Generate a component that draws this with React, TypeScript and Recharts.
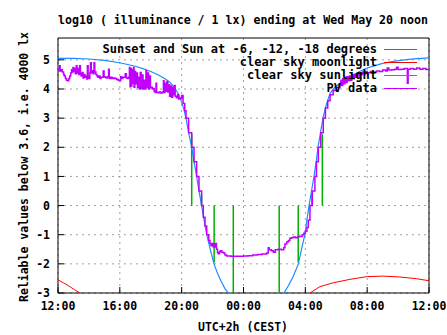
import { LineChart, Line, XAxis, YAxis, CartesianGrid, Legend, ReferenceLine, ReferenceArea } from 'recharts';

// hours after 12:00 (0..24)
const xTicks = [0, 4, 8, 12, 16, 20, 24];
const xTickLabels = ['12:00', '16:00', '20:00', '00:00', '04:00', '08:00', '12:00'];
const minorTicks = [0, 1, 2, 3, 4, 5, 6, 7, 8, 9, 10, 11, 12, 13, 14, 15, 16, 17, 18, 19, 20, 21, 22, 23, 24];
const yTicks = [-3, -2, -1, 0, 1, 2, 3, 4, 5];

// sunset, sun at -6, -12, -18 degrees and back again
const sunTimes = [8.65, 9.29, 10.1, 11.34, 14.31, 15.54, 16.43, 17.1];
const sunTops = [2.45, 0.38, -1.95, -3, -3, -1.95, 0.4, 2.45];

const sunlightT = [0, 1, 2, 3, 4, 5, 5.5, 6, 6.5, 7, 7.3, 7.6, 7.8, 8.0, 8.14, 8.28, 8.45, 8.65, 8.8, 8.97, 9.12, 9.29, 9.45, 9.62, 9.85, 10.09, 10.3, 10.55, 10.8, 11.02,
  12.8,
  14.62, 14.9, 15.2, 15.55, 15.75, 15.97, 16.1, 16.24, 16.4, 16.56, 16.7, 16.82, 16.98, 17.14, 17.35, 17.6, 17.9, 18.24, 18.89, 19.5, 20, 20.5, 21, 21.7, 22.4, 23.2, 24];
const sunlightV = [5.05, 5.05, 5.03, 4.98, 4.9, 4.78, 4.7, 4.6, 4.48, 4.33, 4.2, 4.0, 3.82, 3.55, 3.3, 3.0, 2.5, 2.0, 1.5, 1.0, 0.5, 0.0, -0.5, -1.0, -1.5, -2.0, -2.3, -2.6, -2.85, -3.0,
  null,
  -3.0, -2.75, -2.45, -2.0, -1.5, -1.0, -0.5, 0, 0.5, 1.0, 1.5, 2.0, 2.5, 3.0, 3.45, 3.85, 4.05, 4.2, 4.42, 4.6, 4.72, 4.8, 4.88, 4.95, 5.0, 5.04, 5.07];

const moonT = [0, 0.35, 0.7, 1.05, 1.42, 8, 16.3, 16.95, 17.8, 18.9, 19.97, 21, 22.1, 23.2, 24];
const moonV = [-2.55, -2.65, -2.76, -2.88, -3.0, null, -3.0, -2.78, -2.65, -2.53, -2.44, -2.42, -2.45, -2.51, -2.58];

const pvT = [0.00, 0.05, 0.10, 0.14, 0.20, 0.28, 0.36, 0.41, 0.48, 0.55, 0.63, 0.70, 0.76, 0.82, 0.88, 0.92, 0.97, 1.02, 1.08, 1.12, 1.18, 1.23, 1.28, 1.34, 1.40, 1.45, 1.50, 1.56, 1.62, 1.68, 1.74, 1.80, 1.86, 1.90, 1.95,
  2.00, 2.06, 2.10, 2.15, 2.22, 2.28, 2.33, 2.38, 2.45, 2.52, 2.58, 2.65, 2.72, 2.78, 2.85, 2.92, 2.98, 3.05, 3.12, 3.20, 3.27, 3.32, 3.40, 3.50, 3.60, 3.70, 3.80, 3.90, 3.97,
  4.05, 4.12, 4.20, 4.28, 4.35, 4.42, 4.50, 4.56, 4.62, 4.66, 4.70, 4.74, 4.78, 4.83, 4.88, 4.92, 4.97, 5.02, 5.08, 5.14, 5.20, 5.26, 5.32, 5.38, 5.44, 5.50, 5.56, 5.62, 5.69, 5.74, 5.80, 5.86, 5.92, 5.98,
  6.04, 6.10, 6.16, 6.22, 6.28, 6.34, 6.38, 6.46, 6.55, 6.65, 6.77, 6.82, 6.86, 6.92, 6.98, 7.04, 7.10, 7.16, 7.22, 7.28, 7.34, 7.42, 7.46, 7.52, 7.58, 7.66, 7.74, 7.80, 7.90,
  8.00, 8.09, 8.20, 8.28, 8.45, 8.65, 8.80, 8.97, 9.12, 9.29, 9.40, 9.51, 9.62, 9.75, 9.83, 9.90, 9.98, 10.05, 10.16, 10.25, 10.32, 10.37, 10.45, 10.52, 10.59, 10.70, 10.80, 10.91,
  11.2, 11.6, 12.0, 12.3, 12.6, 12.9, 13.2, 13.5, 13.6, 13.66, 13.8, 13.93, 14.05, 14.25, 14.45, 14.6, 14.68, 14.8, 14.9, 15.0, 15.1, 15.22, 15.35, 15.5, 15.65, 15.8, 15.9, 16.0,
  16.1, 16.19, 16.3, 16.45, 16.62, 16.72, 16.84, 17.0, 17.16, 17.3, 17.45, 17.6, 17.8, 18.0,
  18.24, 18.3, 18.36, 18.42, 18.5, 18.56, 18.62, 18.7, 18.78, 18.85, 18.92, 19.0, 19.08, 19.16, 19.24, 19.32, 19.4, 19.5, 19.6, 19.7, 19.8, 19.9,
  20.0, 20.2, 20.4, 20.6, 20.8, 21.0, 21.2, 21.3, 21.4, 21.6, 21.8, 21.9, 22.0, 22.2, 22.4, 22.6, 22.65, 22.8, 23.0, 23.2, 23.4, 23.6, 23.8, 24];
const pvV = [4.62, 4.68, 4.80, 4.62, 4.66, 4.58, 4.50, 4.45, 4.36, 4.30, 4.28, 4.36, 4.45, 4.55, 4.66, 4.58, 4.74, 4.60, 4.70, 4.52, 4.80, 4.55, 4.70, 4.50, 4.80, 4.52, 4.45, 4.57, 4.38, 4.50, 4.40, 4.45, 4.34, 4.80, 4.42,
  4.36, 4.57, 4.90, 4.55, 4.63, 4.52, 4.90, 4.58, 4.50, 4.45, 4.40, 4.45, 4.36, 4.40, 4.40, 4.62, 4.42, 4.40, 4.38, 4.42, 4.68, 4.36, 4.40, 4.36, 4.38, 4.36, 4.33, 4.30, 4.28,
  4.42, 4.36, 4.40, 4.40, 4.52, 4.38, 4.36, 4.40, 4.74, 4.08, 4.70, 4.10, 4.66, 4.20, 4.74, 4.06, 4.60, 4.18, 4.55, 4.05, 4.40, 4.00, 4.57, 4.02, 4.48, 4.00, 4.30, 4.00, 4.63, 4.05, 4.55, 4.00, 4.45, 4.04,
  4.06, 4.00, 4.02, 3.92, 3.88, 4.20, 3.88, 3.87, 3.90, 3.86, 3.90, 4.28, 3.88, 4.20, 3.92, 4.26, 3.90, 4.15, 3.75, 4.10, 3.72, 4.05, 3.80, 4.12, 3.75, 3.70, 3.80, 3.66, 3.68,
  3.78, 3.50, 3.25, 3.00, 2.50, 2.00, 1.50, 1.00, 0.50, 0.00, -0.40, -0.70, -1.00, -1.20, -1.30, -1.38, -1.30, -1.42, -1.30, -1.50, -1.62, -1.65, -1.58, -1.55, -1.60, -1.63, -1.70, -1.73,
  -1.74, -1.74, -1.73, -1.72, -1.70, -1.68, -1.66, -1.63, -1.45, -1.52, -1.55, -1.60, -1.52, -1.50, -1.52, -1.45, -1.32, -1.25, -1.20, -1.12, -1.10, -1.08, -1.10, -1.07, -1.05, -1.00, -0.95, -0.88,
  -0.75, -0.50, 0.00, 0.50, 1.00, 1.50, 2.00, 2.50, 3.00, 3.35, 3.60, 3.80, 3.95, 4.05,
  4.15, 4.30, 4.12, 4.35, 4.18, 4.40, 4.22, 4.42, 4.28, 4.45, 4.30, 4.48, 4.35, 4.50, 4.40, 4.52, 4.45, 4.55, 4.50, 4.58, 4.52, 4.60,
  4.56, 4.60, 4.58, 4.62, 4.60, 4.65, 4.62, 4.72, 4.65, 4.66, 4.68, 4.75, 4.67, 4.68, 4.70, 4.20, 4.68, 4.70, 4.68, 4.72, 4.68, 4.70, 4.67, 4.68];

const legendItems = [
  { name: 'Sunset and Sun at -6, -12, -18 degrees', color: '#00b000' },
  { name: 'clear sky moonlight', color: '#ff0000' },
  { name: 'clear sky sunlight', color: '#1a8cff' },
  { name: 'PV data', color: '#c000ff' },
];

const FONT = '"DejaVu Sans Mono", monospace';

const sunlight = sunlightT.map((t, i) => ({ t, v: sunlightV[i] }));
const moonlight = moonT.map((t, i) => ({ t, v: moonV[i] }));
const pv = pvT.map((t, i) => ({ t, v: pvV[i] }));

const tickStyle = { fontFamily: FONT, fontSize: 11.5, fontWeight: 'bold', fill: '#000' };

function LegendBox() {
  return (
    <div style={{ fontFamily: FONT, fontSize: 12, fontWeight: 'bold', color: '#000', lineHeight: '13px' }}>
      {legendItems.map(it => (
        <div key={it.name} style={{ display: 'flex', justifyContent: 'flex-end', alignItems: 'center', height: 13, whiteSpace: 'pre' }}>
          <span>{it.name}</span>
          <span style={{ display: 'inline-block', flexShrink: 0, width: 33, height: 1, background: it.color, marginLeft: 7 }} />
        </div>
      ))}
    </div>
  );
}

export default function App() {
  return (
    <div style={{ position: 'absolute', left: 0, top: 0, width: 447, height: 335, background: '#fff' }}>
      <div style={{ position: 'absolute', left: 0, width: 447, top: 13, textAlign: 'center', fontFamily: FONT, fontSize: 11.6, fontWeight: 'bold', paddingLeft: 39, boxSizing: 'border-box' }}>
        log10 ( illuminance / 1 lx) ending at Wed May 20 noon
      </div>
      <div style={{ position: 'absolute', left: 24, top: 167, transform: 'translate(-50%, -50%) rotate(-90deg)', whiteSpace: 'nowrap', fontFamily: FONT, fontSize: 11.5, fontWeight: 'bold' }}>
        Reliable values below 3.6, i.e. 4000 lx
      </div>
      <div style={{ position: 'absolute', left: 0, width: 447, top: 320, textAlign: 'center', fontFamily: FONT, fontSize: 11.5, fontWeight: 'bold', paddingLeft: 39, boxSizing: 'border-box' }}>
        UTC+2h (CEST)
      </div>
      <LineChart width={447} height={335} margin={{ top: 38, right: 18, left: 0, bottom: 0 }} style={{ position: 'absolute', left: 0, top: 0 }}>
        <CartesianGrid horizontalValues={yTicks} verticalValues={xTicks} stroke="#a0a0a0" strokeDasharray="2 4" />
        <XAxis xAxisId="minor" type="number" dataKey="t" domain={[0, 24]} ticks={minorTicks} height={0} tickSize={-3} tick={false} axisLine={false} tickLine={{ stroke: '#000' }} />
        <XAxis xAxisId={0} type="number" dataKey="t" domain={[0, 24]} ticks={xTicks} height={42} tickSize={-6} tickMargin={15}
          tickFormatter={(v: number) => xTickLabels[xTicks.indexOf(v)]} tick={tickStyle} axisLine={false} tickLine={{ stroke: '#000' }} />
        <XAxis xAxisId="top" orientation="top" type="number" dataKey="t" domain={[0, 24]} ticks={xTicks} height={0} tickSize={-6} tick={false} axisLine={false} tickLine={{ stroke: '#000' }} />
        <XAxis xAxisId="topMinor" orientation="top" type="number" dataKey="t" domain={[0, 24]} ticks={minorTicks} height={0} tickSize={-3} tick={false} axisLine={false} tickLine={{ stroke: '#000' }} />
        <YAxis yAxisId={0} type="number" domain={[-3, 5.75]} ticks={yTicks} allowDataOverflow width={58} tickSize={-6} tickMargin={14} tick={tickStyle} axisLine={false} tickLine={{ stroke: '#000' }} />
        <YAxis yAxisId="right" orientation="right" type="number" domain={[-3, 5.75]} ticks={yTicks} allowDataOverflow width={0} tickSize={-6} tick={false} axisLine={false} tickLine={{ stroke: '#000' }} />
        <ReferenceArea x1={0} x2={24} y1={-3} y2={5.75} fill="none" stroke="#000" strokeWidth={1} ifOverflow="visible" />
        <Legend content={<LegendBox />} layout="horizontal" verticalAlign="middle" align="center" wrapperStyle={{ position: 'absolute', top: 43, left: 60, width: 357 }} />
        {sunTimes.map((t, i) => (
          <ReferenceLine key={'sun' + i} segment={[{ x: t, y: 0 }, { x: t, y: sunTops[i] }]} stroke="#00b000" strokeWidth={1.5} ifOverflow="hidden" />
        ))}
        <Line data={moonlight} dataKey="v" type="linear" stroke="#ff0000" strokeWidth={1} dot={false} isAnimationActive={false} legendType="none" />
        <Line data={sunlight} dataKey="v" type="linear" stroke="#1a8cff" strokeWidth={1.2} dot={false} isAnimationActive={false} legendType="none" />
        <Line data={pv} dataKey="v" type="stepAfter" stroke="#c000ff" strokeWidth={1.5} dot={false} isAnimationActive={false} legendType="none" />
      </LineChart>
    </div>
  );
}
